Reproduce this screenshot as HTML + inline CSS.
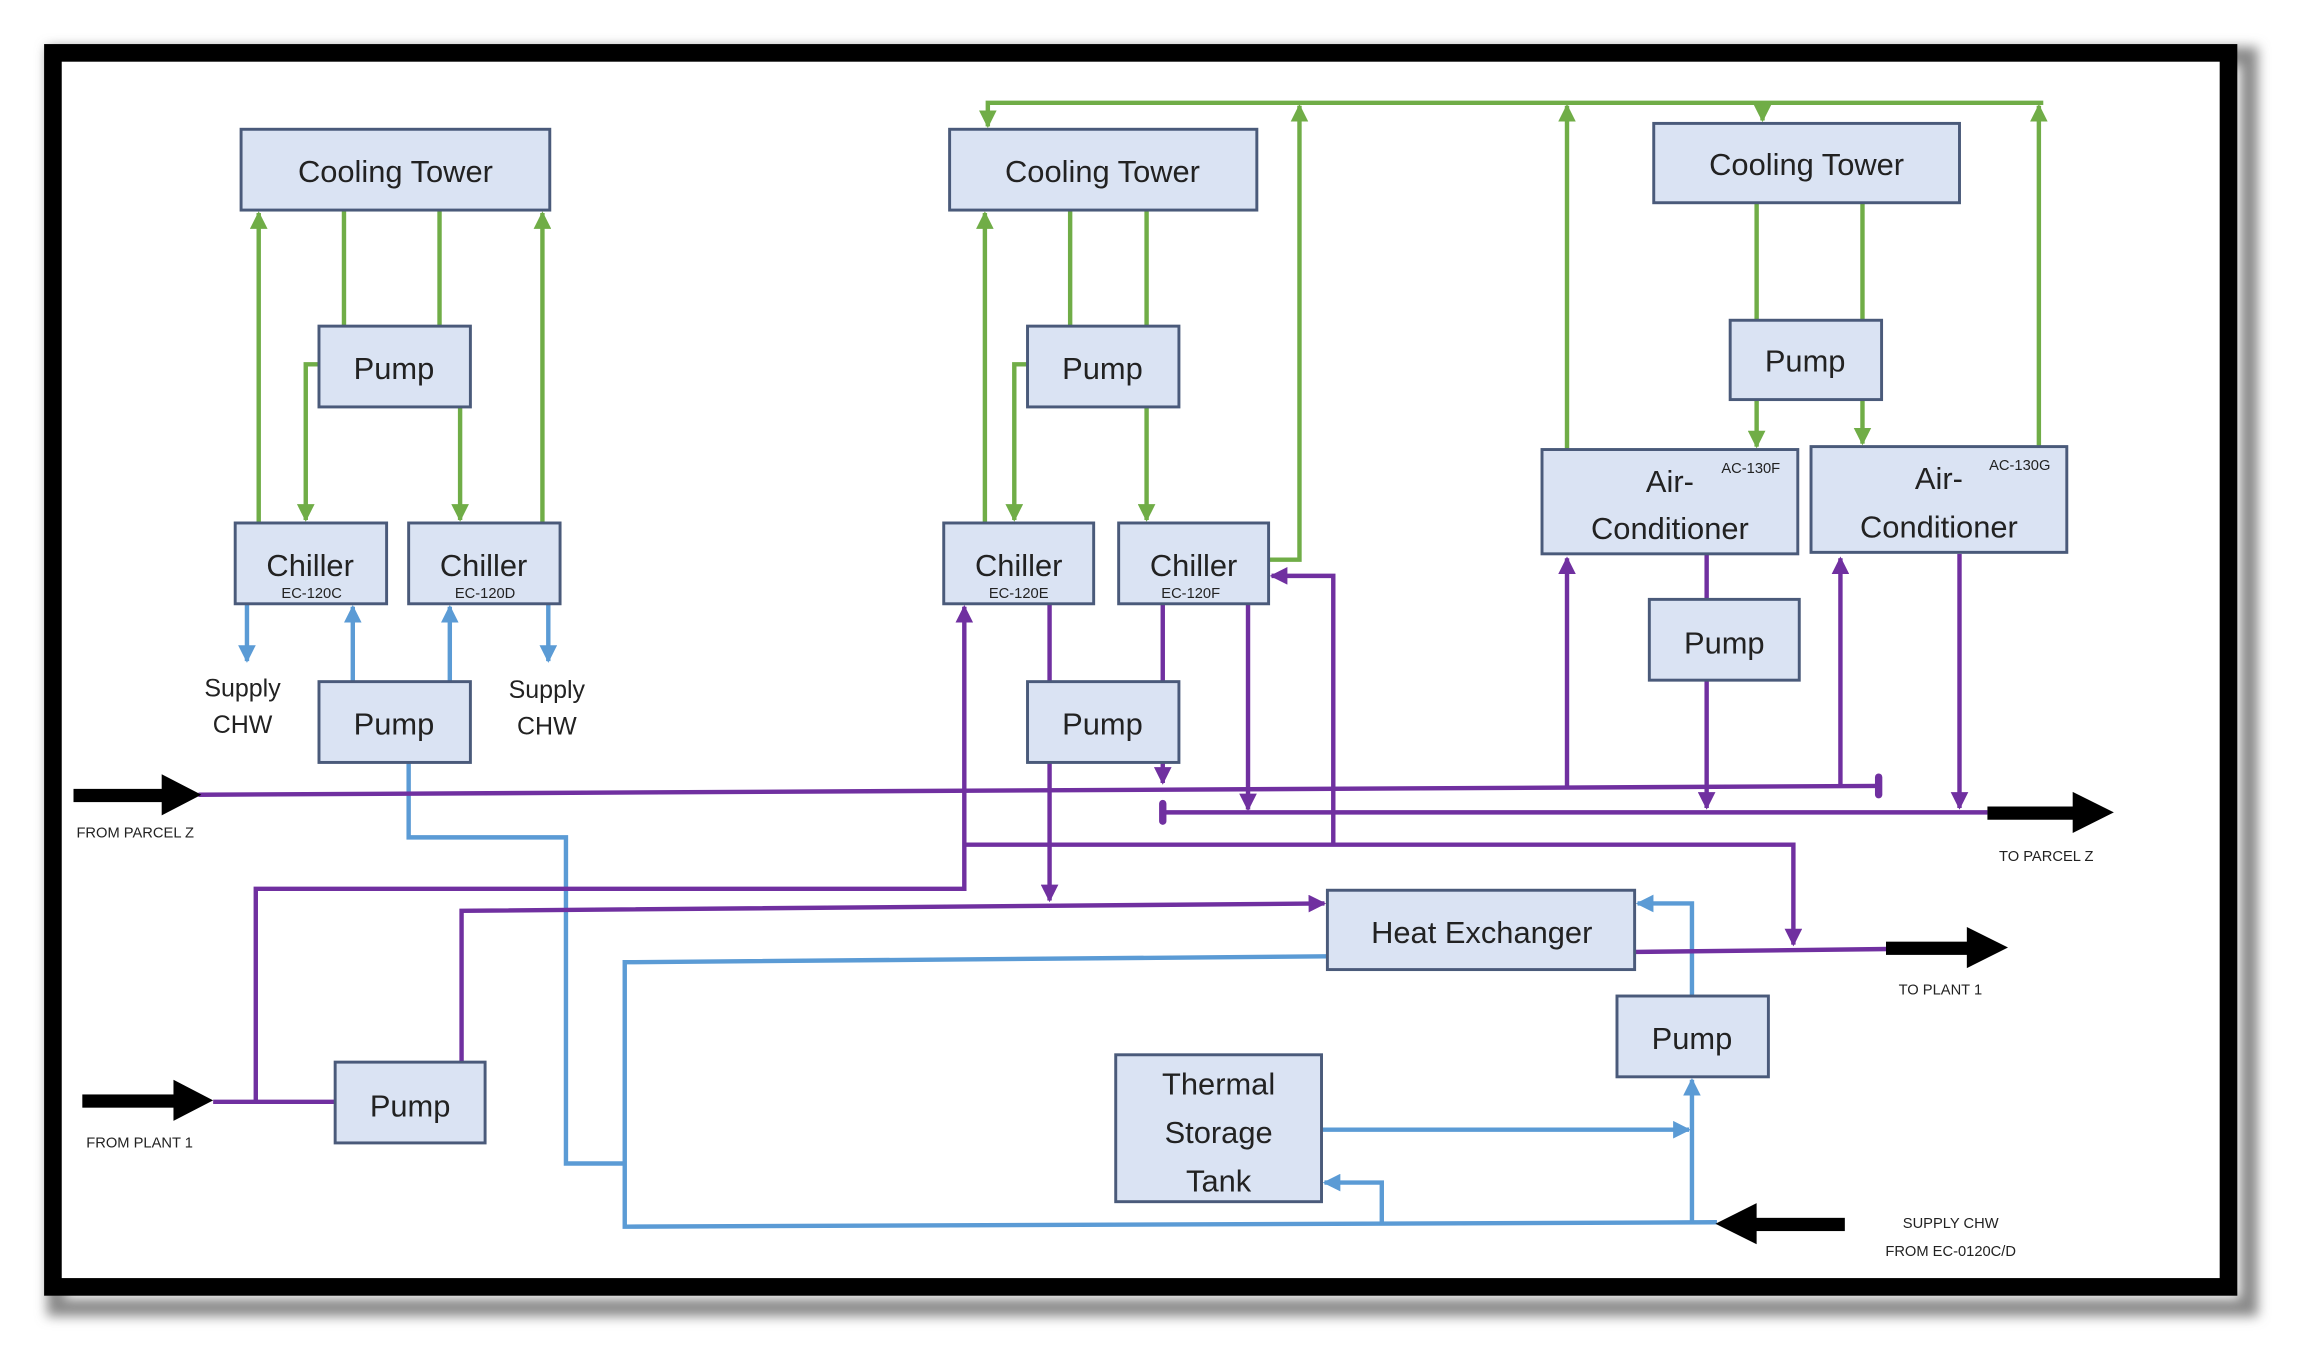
<!DOCTYPE html>
<html><head><meta charset="utf-8"><style>
html,body{margin:0;padding:0;background:#fff;}
svg{display:block;}
text{font-family:"Liberation Sans",sans-serif;fill:#222;}
</style></head><body>
<svg width="2302" height="1353" viewBox="0 0 1566 921" preserveAspectRatio="none" xmlns="http://www.w3.org/2000/svg">
<defs>
<marker id="ag" viewBox="0 0 10 10" refX="9" refY="5" markerWidth="4" markerHeight="4" orient="auto"><path d="M0,0L10,5L0,10z" fill="#70ad47"/></marker>
<marker id="ab" viewBox="0 0 10 10" refX="9" refY="5" markerWidth="4" markerHeight="4" orient="auto"><path d="M0,0L10,5L0,10z" fill="#5b9bd5"/></marker>
<marker id="ap" viewBox="0 0 10 10" refX="9" refY="5" markerWidth="4" markerHeight="4" orient="auto"><path d="M0,0L10,5L0,10z" fill="#7030a0"/></marker>
<filter id="sh"><feGaussianBlur stdDeviation="4"/></filter>
</defs>
<rect x="38" y="38" width="1492" height="852" fill="none" stroke="#888" stroke-width="12" filter="url(#sh)"/>
<rect x="36" y="36" width="1480" height="840" fill="#fff" stroke="#000" stroke-width="12"/>

<g fill="none" stroke="#70ad47" stroke-width="3">
<path d="M176,356V145" marker-end="url(#ag)"/>
<path d="M234,143V222M299,143V222"/>
<path d="M217,248H208V354" marker-end="url(#ag)"/>
<path d="M313,277V354" marker-end="url(#ag)"/>
<path d="M369,356V145" marker-end="url(#ag)"/>
<path d="M670,356V145" marker-end="url(#ag)"/>
<path d="M728,143V222M780,143V222"/>
<path d="M699,248H690V354" marker-end="url(#ag)"/>
<path d="M780,277V354" marker-end="url(#ag)"/>
<path d="M863,381H884V72" marker-end="url(#ag)"/>
<path d="M1390,70H672V86" marker-end="url(#ag)"/>
<path d="M1066,306V72" marker-end="url(#ag)"/>
<path d="M1199,70V82" marker-end="url(#ag)"/>
<path d="M1387,304V72" marker-end="url(#ag)"/>
<path d="M1195,138V218M1267,138V218"/>
<path d="M1195,272V304" marker-end="url(#ag)"/>
<path d="M1267,272V302" marker-end="url(#ag)"/>
</g>

<g fill="none" stroke="#5b9bd5" stroke-width="3">
<path d="M168,411V450" marker-end="url(#ab)"/>
<path d="M240,464V413" marker-end="url(#ab)"/>
<path d="M306,464V413" marker-end="url(#ab)"/>
<path d="M373,411V450" marker-end="url(#ab)"/>
<path d="M278,519V570H385V792H425"/>
<path d="M903,651L425,655V835L1168,832"/>
<path d="M1151,678V615H1114" marker-end="url(#ab)"/>
<path d="M1151,832V735" marker-end="url(#ab)"/>
<path d="M899,769H1149" marker-end="url(#ab)"/>
<path d="M940,834V805H901" marker-end="url(#ab)"/>
</g>

<g fill="none" stroke="#7030a0" stroke-width="3">
<path d="M135,541L1278,535"/>
<path d="M791,553H1352"/>
<path d="M1278,529V541M791,547V559" stroke-width="5" stroke-linecap="round"/>
<path d="M174,750V605H656V413" marker-end="url(#ap)"/>
<path d="M656,575H1220V643" marker-end="url(#ap)"/>
<path d="M907,575V392H865" marker-end="url(#ap)"/>
<path d="M714,411V464"/>
<path d="M714,519V613" marker-end="url(#ap)"/>
<path d="M314,723V620L901,615" marker-end="url(#ap)"/>
<path d="M791,411V464"/>
<path d="M791,519V533" marker-end="url(#ap)"/>
<path d="M849,411V551" marker-end="url(#ap)"/>
<path d="M1112,648L1285,646"/>
<path d="M145,750H228"/>
<path d="M1161,377V408"/>
<path d="M1161,463V550" marker-end="url(#ap)"/>
<path d="M1066,535V380" marker-end="url(#ap)"/>
<path d="M1252,535V380" marker-end="url(#ap)"/>
<path d="M1333,377V550" marker-end="url(#ap)"/>
</g>

<g fill="#000">
<rect x="50" y="537" width="70" height="9"/><path d="M110,527L137,541L110,555z"/>
<rect x="56" y="745" width="72" height="9"/><path d="M118,735L145,749L118,763z"/>
<rect x="1352" y="549" width="70" height="9"/><path d="M1410,539L1438,553L1410,567z"/>
<rect x="1283" y="641" width="65" height="9"/><path d="M1338,631L1366,645L1338,659z"/>
<rect x="1188" y="829" width="67" height="9"/><path d="M1195,819L1167,833L1195,847z"/>
</g>

<g fill="#dae3f3" stroke="#4a5a7a" stroke-width="2">
<rect x="164" y="88" width="210" height="55"/>
<rect x="217" y="222" width="103" height="55"/>
<rect x="160" y="356" width="103" height="55"/>
<rect x="278" y="356" width="103" height="55"/>
<rect x="217" y="464" width="103" height="55"/>
<rect x="646" y="88" width="209" height="55"/>
<rect x="699" y="222" width="103" height="55"/>
<rect x="642" y="356" width="102" height="55"/>
<rect x="761" y="356" width="102" height="55"/>
<rect x="699" y="464" width="103" height="55"/>
<rect x="1125" y="84" width="208" height="54"/>
<rect x="1177" y="218" width="103" height="54"/>
<rect x="1049" y="306" width="174" height="71"/>
<rect x="1232" y="304" width="174" height="72"/>
<rect x="1122" y="408" width="102" height="55"/>
<rect x="903" y="606" width="209" height="54"/>
<rect x="1100" y="678" width="103" height="55"/>
<rect x="759" y="718" width="140" height="100"/>
<rect x="228" y="723" width="102" height="55"/>
</g>

<g font-size="21" text-anchor="middle">
<text x="269" y="124">Cooling Tower</text>
<text x="268" y="258">Pump</text>
<text x="211" y="392">Chiller</text>
<text x="329" y="392">Chiller</text>
<text x="268" y="500">Pump</text>
<text x="750" y="124">Cooling Tower</text>
<text x="750" y="258">Pump</text>
<text x="693" y="392">Chiller</text>
<text x="812" y="392">Chiller</text>
<text x="750" y="500">Pump</text>
<text x="1229" y="119">Cooling Tower</text>
<text x="1228" y="253">Pump</text>
<text x="1136" y="335">Air-</text>
<text x="1136" y="367">Conditioner</text>
<text x="1319" y="333">Air-</text>
<text x="1319" y="366">Conditioner</text>
<text x="1173" y="445">Pump</text>
<text x="1008" y="642">Heat Exchanger</text>
<text x="1151" y="714">Pump</text>
<text x="829" y="745">Thermal</text>
<text x="829" y="778">Storage</text>
<text x="829" y="811">Tank</text>
<text x="279" y="760">Pump</text>
</g>
<g font-size="17" text-anchor="middle" fill="#333">
<text x="165" y="474">Supply</text><text x="165" y="499">CHW</text>
<text x="372" y="475">Supply</text><text x="372" y="500">CHW</text>
</g>
<g font-size="10" text-anchor="middle">
<text x="212" y="407">EC-120C</text>
<text x="330" y="407">EC-120D</text>
<text x="693" y="407">EC-120E</text>
<text x="810" y="407">EC-120F</text>
<text x="1191" y="322">AC-130F</text>
<text x="1374" y="320">AC-130G</text>
<text x="92" y="570">FROM PARCEL Z</text>
<text x="95" y="781">FROM PLANT 1</text>
<text x="1392" y="586">TO PARCEL Z</text>
<text x="1320" y="677">TO PLANT 1</text>
<text x="1327" y="836">SUPPLY CHW</text>
<text x="1327" y="855">FROM EC-0120C/D</text>
</g>
</svg>
</body></html>
